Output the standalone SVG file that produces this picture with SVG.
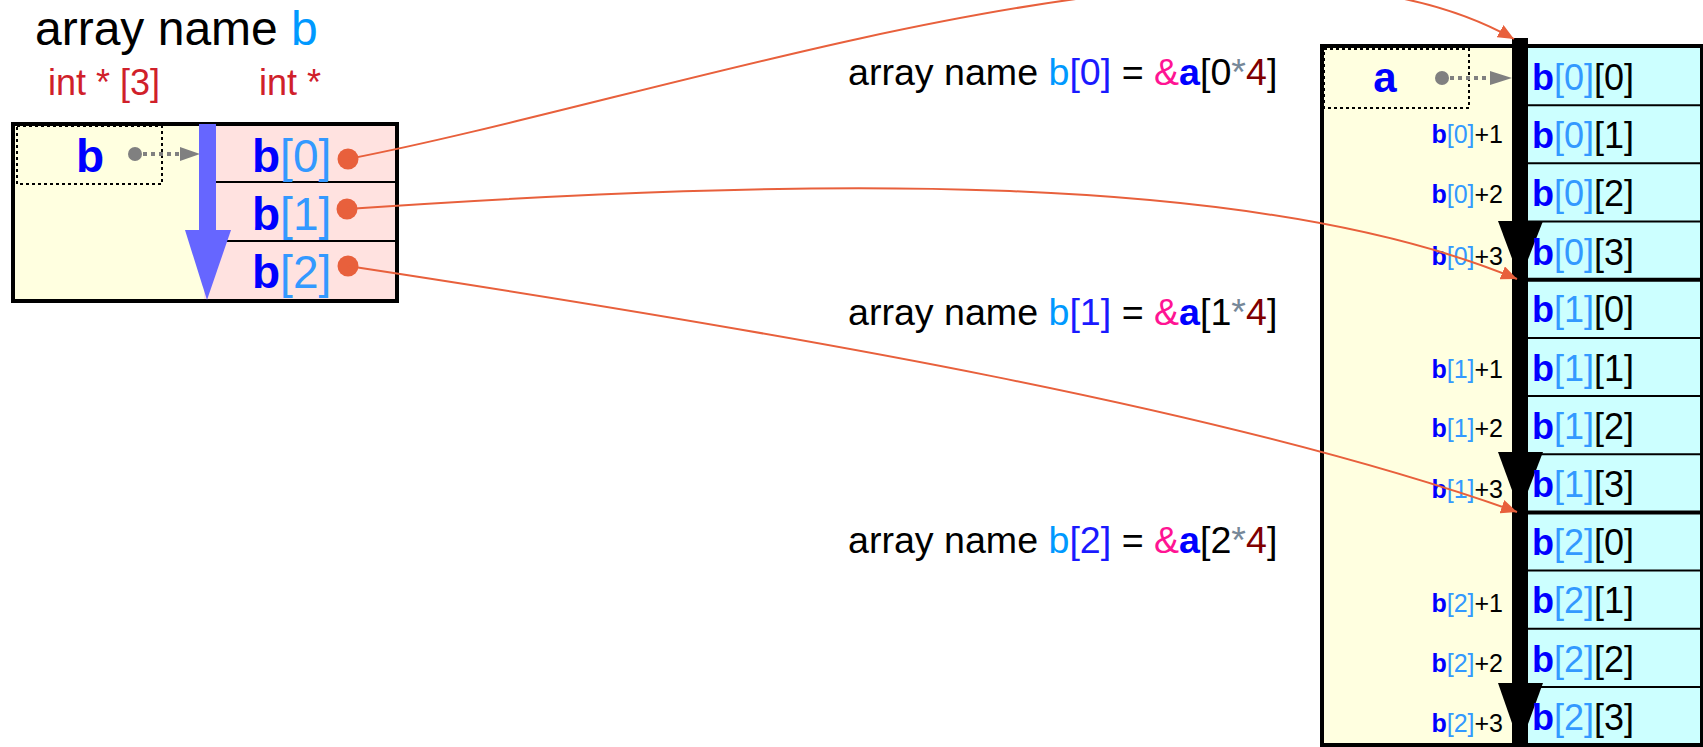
<svg xmlns="http://www.w3.org/2000/svg" width="1703" height="747" viewBox="0 0 1703 747">
<defs>
<style>
text{font-family:"Liberation Sans",Arial,sans-serif}
.t{font-size:48px;fill:#000}
.ty{font-size:36px;fill:#d0202a}
.bb{font-weight:bold;fill:#0000ff}
.lb{fill:#3399ff}
.sky{fill:#0099ff}
.blu{fill:#1a1aff}
.amp{fill:#ff1493}
.star{fill:#778899}
.four{fill:#800000}
.eq{font-size:37.6px;fill:#000}
.cell{font-size:36px;fill:#000}
.lab{font-size:25px;fill:#000;text-anchor:end}
.bnm{font-size:46px}
.row{stroke:#000;stroke-width:2}
.grp{stroke:#000;stroke-width:4}
.dash{fill:none;stroke:#000;stroke-width:2;stroke-dasharray:3,3}
.conn{fill:none;stroke:#e8603c;stroke-width:2}
.gdot{fill:#808080}
.gline{stroke:#808080;stroke-width:4;stroke-dasharray:4,4}
</style>
<marker id="oa" viewBox="0 0 16 14" refX="16" refY="7" markerWidth="16" markerHeight="14" markerUnits="userSpaceOnUse" orient="auto">
<path d="M0,0 L16,7 L0,14 z" fill="#e8603c"/>
</marker>
</defs>
<rect width="1703" height="747" fill="#fff"/>

<g id="title">
<text class="t" x="35" y="45">array name <tspan class="sky">b</tspan></text>
<text class="ty" x="48" y="95">int * [3]</text>
<text class="ty" x="259" y="95">int *</text>
</g>

<g id="node-b">
<rect x="13" y="124" width="191" height="177" fill="#ffffe0"/>
<rect x="204" y="124" width="193" height="177" fill="#ffe2e0"/>
<line class="row" x1="204" y1="182" x2="397" y2="182"/>
<line class="row" x1="204" y1="241" x2="397" y2="241"/>
<rect x="13" y="124" width="384" height="177" fill="none" stroke="#000" stroke-width="4"/>
<rect class="dash" x="17" y="126" width="145" height="58"/>
<text class="bb bnm" x="90" y="172" text-anchor="middle">b</text>
<circle class="gdot" cx="135" cy="154" r="7"/>
<line class="gline" x1="135" y1="154" x2="182" y2="154"/>
<path d="M180,147 L200,154 L180,161 z" fill="#808080"/>
<rect x="199" y="124" width="17" height="108" fill="#6666ff"/>
<path d="M185,230 L231,230 L207,300 z" fill="#6666ff"/>
<text class="bnm" x="252" y="172"><tspan class="bb">b</tspan><tspan class="lb">[0]</tspan></text>
<text class="bnm" x="252" y="230"><tspan class="bb">b</tspan><tspan class="lb">[1]</tspan></text>
<text class="bnm" x="252" y="288"><tspan class="bb">b</tspan><tspan class="lb">[2]</tspan></text>
<circle cx="348" cy="159" r="10.5" fill="#e8603c"/>
<circle cx="347" cy="209" r="10.5" fill="#e8603c"/>
<circle cx="348" cy="266" r="10.5" fill="#e8603c"/>
</g>

<g id="eq-labels">
<text class="eq" x="848" y="85">array name <tspan class="sky">b</tspan><tspan class="blu">[0]</tspan> = <tspan class="amp">&amp;</tspan><tspan class="bb">a</tspan>[0<tspan class="star">*</tspan><tspan class="four">4</tspan>]</text>
<text class="eq" x="848" y="325">array name <tspan class="sky">b</tspan><tspan class="blu">[1]</tspan> = <tspan class="amp">&amp;</tspan><tspan class="bb">a</tspan>[1<tspan class="star">*</tspan><tspan class="four">4</tspan>]</text>
<text class="eq" x="848" y="553">array name <tspan class="sky">b</tspan><tspan class="blu">[2]</tspan> = <tspan class="amp">&amp;</tspan><tspan class="bb">a</tspan>[2<tspan class="star">*</tspan><tspan class="four">4</tspan>]</text>
</g>

<g id="node-a">
<rect x="1322" y="46" width="190" height="699" fill="#ffffe0"/>
<rect x="1528" y="46" width="174" height="699" fill="#ccffff"/>
<line class="row" x1="1528" y1="105.2" x2="1702" y2="105.2"/>
<line class="row" x1="1528" y1="163.3" x2="1702" y2="163.3"/>
<line class="row" x1="1528" y1="221.5" x2="1702" y2="221.5"/>
<line class="grp" x1="1528" y1="279.7" x2="1702" y2="279.7"/>
<line class="row" x1="1528" y1="337.9" x2="1702" y2="337.9"/>
<line class="row" x1="1528" y1="396" x2="1702" y2="396"/>
<line class="row" x1="1528" y1="454.2" x2="1702" y2="454.2"/>
<line class="grp" x1="1528" y1="512.4" x2="1702" y2="512.4"/>
<line class="row" x1="1528" y1="570.5" x2="1702" y2="570.5"/>
<line class="row" x1="1528" y1="628.7" x2="1702" y2="628.7"/>
<line class="row" x1="1528" y1="686.9" x2="1702" y2="686.9"/>
<rect x="1322" y="46" width="380" height="699" fill="none" stroke="#000" stroke-width="4"/>
<rect class="dash" x="1324" y="49" width="145" height="59"/>
<text class="bb" x="1385" y="92" font-size="42" text-anchor="middle">a</text>
<circle class="gdot" cx="1442" cy="78" r="7"/>
<line class="gline" x1="1442" y1="78" x2="1492" y2="78"/>
<path d="M1490,71 L1512,78 L1490,85 z" fill="#808080"/>

<rect x="1512" y="38" width="16" height="707" fill="#000"/>
<path d="M1498,221 L1543,221 L1520,280 z" fill="#000"/>
<path d="M1498,452 L1543,452 L1520,512 z" fill="#000"/>
<path d="M1498,683 L1543,683 L1520,746 z" fill="#000"/>

<text class="cell" x="1532" y="90"><tspan class="bb">b</tspan><tspan class="lb">[0]</tspan>[0]</text>
<text class="cell" x="1532" y="148"><tspan class="bb">b</tspan><tspan class="lb">[0]</tspan>[1]</text>
<text class="cell" x="1532" y="206"><tspan class="bb">b</tspan><tspan class="lb">[0]</tspan>[2]</text>
<text class="cell" x="1532" y="265"><tspan class="bb">b</tspan><tspan class="lb">[0]</tspan>[3]</text>
<text class="cell" x="1532" y="322"><tspan class="bb">b</tspan><tspan class="lb">[1]</tspan>[0]</text>
<text class="cell" x="1532" y="381"><tspan class="bb">b</tspan><tspan class="lb">[1]</tspan>[1]</text>
<text class="cell" x="1532" y="439"><tspan class="bb">b</tspan><tspan class="lb">[1]</tspan>[2]</text>
<text class="cell" x="1532" y="497"><tspan class="bb">b</tspan><tspan class="lb">[1]</tspan>[3]</text>
<text class="cell" x="1532" y="555"><tspan class="bb">b</tspan><tspan class="lb">[2]</tspan>[0]</text>
<text class="cell" x="1532" y="613"><tspan class="bb">b</tspan><tspan class="lb">[2]</tspan>[1]</text>
<text class="cell" x="1532" y="672"><tspan class="bb">b</tspan><tspan class="lb">[2]</tspan>[2]</text>
<text class="cell" x="1532" y="730"><tspan class="bb">b</tspan><tspan class="lb">[2]</tspan>[3]</text>

<text class="lab" x="1503" y="143"><tspan class="bb">b</tspan><tspan class="lb">[0]</tspan>+1</text>
<text class="lab" x="1503" y="203"><tspan class="bb">b</tspan><tspan class="lb">[0]</tspan>+2</text>
<text class="lab" x="1503" y="265"><tspan class="bb">b</tspan><tspan class="lb">[0]</tspan>+3</text>
<text class="lab" x="1503" y="378"><tspan class="bb">b</tspan><tspan class="lb">[1]</tspan>+1</text>
<text class="lab" x="1503" y="437"><tspan class="bb">b</tspan><tspan class="lb">[1]</tspan>+2</text>
<text class="lab" x="1503" y="498"><tspan class="bb">b</tspan><tspan class="lb">[1]</tspan>+3</text>
<text class="lab" x="1503" y="612"><tspan class="bb">b</tspan><tspan class="lb">[2]</tspan>+1</text>
<text class="lab" x="1503" y="672"><tspan class="bb">b</tspan><tspan class="lb">[2]</tspan>+2</text>
<text class="lab" x="1503" y="732"><tspan class="bb">b</tspan><tspan class="lb">[2]</tspan>+3</text>
</g>

<g id="connectors">
<path class="conn" d="M348,159 C700,90 1250,-110 1514,39" marker-end="url(#oa)"/>
<path class="conn" d="M347,209 C800,178 1250,168 1517,279" marker-end="url(#oa)"/>
<path class="conn" d="M348,266 C800,335 1230,410 1517,512" marker-end="url(#oa)"/>
</g>
</svg>
